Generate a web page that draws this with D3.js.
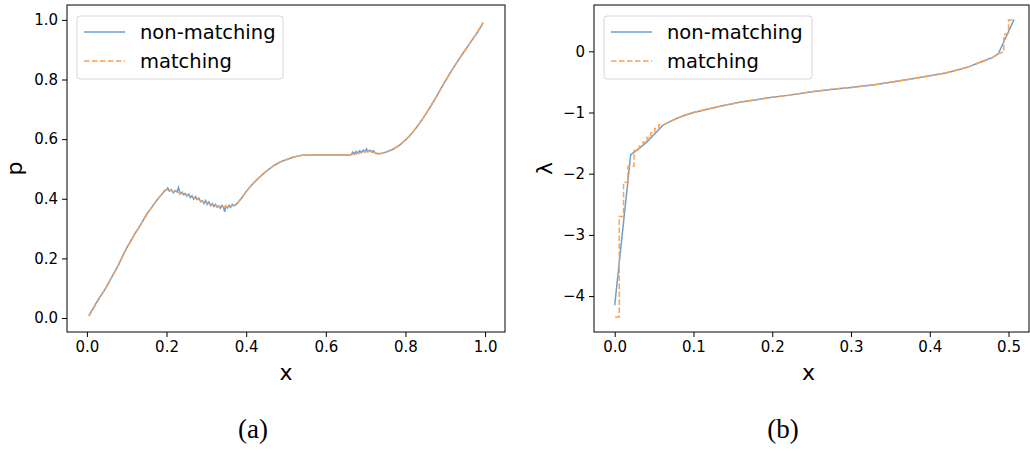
<!DOCTYPE html>
<html>
<head>
<meta charset="utf-8">
<script src="https://cdn.jsdelivr.net/npm/d3@7"></script>
<style>
  body { margin: 0; background: #fff; }
  svg { display: block; }
</style>
</head>
<body>
<svg id="chart" width="1030" height="451"></svg>
<script>
// panel (a): p against x
const leftTicks = [0, 0.2, 0.4, 0.6, 0.8, 1.0];
const leftNonMatching = [
  [0.005, 0.008], [0.01, 0.02], [0.02, 0.042], [0.03, 0.066], [0.04, 0.085], [0.05, 0.106],
  [0.06, 0.132], [0.07, 0.155], [0.08, 0.18], [0.09, 0.209], [0.10, 0.235], [0.11, 0.258],
  [0.12, 0.282], [0.13, 0.302], [0.14, 0.325], [0.15, 0.348], [0.16, 0.366], [0.17, 0.385],
  [0.18, 0.403], [0.19, 0.418], [0.195, 0.428],
  [0.200, 0.430], [0.203, 0.436], [0.207, 0.426], [0.212, 0.431], [0.217, 0.420], [0.221, 0.427],
  [0.226, 0.423], [0.230, 0.438], [0.234, 0.416], [0.239, 0.422], [0.243, 0.413], [0.247, 0.418],
  [0.251, 0.409], [0.256, 0.416], [0.260, 0.404], [0.264, 0.410], [0.268, 0.399], [0.273, 0.407],
  [0.277, 0.397], [0.281, 0.402], [0.286, 0.390], [0.290, 0.393], [0.294, 0.384], [0.298, 0.394],
  [0.302, 0.381], [0.306, 0.389], [0.311, 0.377], [0.315, 0.384], [0.319, 0.374], [0.323, 0.381],
  [0.327, 0.372], [0.331, 0.376], [0.335, 0.368], [0.339, 0.378], [0.343, 0.371], [0.346, 0.356],
  [0.349, 0.376], [0.353, 0.369], [0.357, 0.378], [0.361, 0.371], [0.365, 0.381], [0.370, 0.376],
  [0.375, 0.381],
  [0.38, 0.388], [0.39, 0.405], [0.40, 0.424], [0.41, 0.44], [0.42, 0.455], [0.43, 0.468],
  [0.44, 0.48], [0.45, 0.492], [0.46, 0.502], [0.47, 0.512], [0.48, 0.519], [0.49, 0.526],
  [0.50, 0.531], [0.51, 0.536], [0.52, 0.54], [0.53, 0.543], [0.54, 0.546], [0.56, 0.547],
  [0.60, 0.547], [0.64, 0.547], [0.655, 0.547],
  [0.660, 0.546], [0.664, 0.549], [0.668, 0.557], [0.672, 0.550], [0.676, 0.559], [0.681, 0.553],
  [0.685, 0.561], [0.689, 0.555], [0.694, 0.563], [0.698, 0.557], [0.702, 0.567], [0.706, 0.558],
  [0.711, 0.563], [0.715, 0.557], [0.719, 0.562], [0.724, 0.554], [0.730, 0.551],
  [0.74, 0.553], [0.75, 0.556], [0.76, 0.561], [0.77, 0.567], [0.78, 0.575], [0.79, 0.585],
  [0.80, 0.597], [0.81, 0.61], [0.82, 0.626], [0.83, 0.643], [0.84, 0.662], [0.85, 0.682],
  [0.86, 0.703], [0.87, 0.725], [0.88, 0.748], [0.89, 0.772], [0.90, 0.795], [0.91, 0.817],
  [0.92, 0.838], [0.93, 0.859], [0.94, 0.879], [0.95, 0.899], [0.96, 0.918], [0.97, 0.938],
  [0.98, 0.957], [0.99, 0.978], [0.995, 0.99]
];
const leftMatching = [
  [0.005, 0.006], [0.02, 0.04], [0.04, 0.084], [0.06, 0.13], [0.08, 0.18], [0.10, 0.234],
  [0.12, 0.28], [0.14, 0.324], [0.16, 0.366], [0.18, 0.402], [0.19, 0.418], [0.20, 0.431],
  [0.21, 0.428], [0.22, 0.424], [0.23, 0.421], [0.24, 0.417], [0.25, 0.413], [0.26, 0.408],
  [0.27, 0.402], [0.28, 0.397], [0.29, 0.391], [0.30, 0.386], [0.31, 0.382], [0.32, 0.378],
  [0.33, 0.375], [0.34, 0.373], [0.35, 0.373], [0.36, 0.374], [0.37, 0.378], [0.38, 0.388],
  [0.39, 0.405], [0.40, 0.424], [0.41, 0.44], [0.42, 0.455], [0.43, 0.468], [0.44, 0.48],
  [0.45, 0.492], [0.46, 0.502], [0.47, 0.512], [0.48, 0.519], [0.49, 0.526], [0.50, 0.531],
  [0.52, 0.54], [0.54, 0.546], [0.56, 0.547], [0.60, 0.547], [0.66, 0.547], [0.67, 0.549],
  [0.68, 0.552], [0.69, 0.555], [0.70, 0.558], [0.71, 0.558], [0.72, 0.555], [0.73, 0.551],
  [0.74, 0.552], [0.76, 0.561], [0.78, 0.575], [0.80, 0.597], [0.82, 0.626], [0.84, 0.662],
  [0.86, 0.703], [0.88, 0.748], [0.90, 0.795], [0.92, 0.838], [0.94, 0.879], [0.96, 0.918],
  [0.98, 0.957], [0.995, 0.992]
];

// panel (b): lambda against x
const rightXTicks = [0, 0.1, 0.2, 0.3, 0.4, 0.5];
const rightYTicks = [-4, -3, -2, -1, 0];
const rightNonMatching = [
  [0.0, -4.15], [0.0203, -1.69], [0.03, -1.6], [0.041, -1.48], [0.05, -1.36], [0.061, -1.21],
  [0.07, -1.15], [0.08, -1.09], [0.09, -1.04], [0.10, -1.0], [0.12, -0.94], [0.14, -0.88],
  [0.16, -0.83], [0.18, -0.79], [0.20, -0.75], [0.22, -0.72], [0.25, -0.66], [0.28, -0.615],
  [0.30, -0.59], [0.33, -0.545], [0.35, -0.505], [0.38, -0.445], [0.40, -0.40], [0.42, -0.355],
  [0.43, -0.32], [0.44, -0.29], [0.45, -0.25], [0.46, -0.20], [0.47, -0.15], [0.48, -0.10],
  [0.487, -0.04], [0.507, 0.52]
];
// the matching curve climbs in small stairs at both ends
const rightMatching = [
  [0.0005, -4.34], [0.0058, -4.34], [0.0058, -2.70], [0.0112, -2.70], [0.0112, -2.14],
  [0.0168, -2.14], [0.0168, -1.88], [0.0245, -1.88], [0.0245, -1.62], [0.031, -1.62],
  [0.031, -1.55], [0.036, -1.55], [0.036, -1.48], [0.041, -1.48], [0.041, -1.41],
  [0.046, -1.41], [0.046, -1.33], [0.051, -1.33], [0.051, -1.26], [0.056, -1.26],
  [0.056, -1.2], [0.062, -1.2],
  [0.07, -1.15], [0.08, -1.09], [0.09, -1.04], [0.10, -1.0], [0.12, -0.94], [0.14, -0.88],
  [0.16, -0.83], [0.18, -0.79], [0.20, -0.75], [0.22, -0.72], [0.25, -0.66], [0.28, -0.615],
  [0.30, -0.59], [0.33, -0.545], [0.35, -0.505], [0.38, -0.445], [0.40, -0.40], [0.42, -0.355],
  [0.43, -0.32], [0.44, -0.29], [0.45, -0.25], [0.46, -0.20], [0.47, -0.15], [0.48, -0.10],
  [0.487, -0.04], [0.494, -0.01], [0.494, 0.27], [0.500, 0.30], [0.500, 0.51], [0.505, 0.51]
];

const seriesNames = ["non-matching", "matching"];
const blue = "#6a9fd4";
const orange = "#ffa04c";

const svg = d3.select("#chart");
const fmtMinus = f => v => f(v).replace("-", "\u2212");

function drawPanel(opt) {
  const x = d3.scaleLinear().domain(opt.xDomain).range([opt.left, opt.right]);
  const y = d3.scaleLinear().domain(opt.yDomain).range([opt.bottom, opt.top]);
  const g = svg.append("g");

  // frame
  g.append("rect")
    .attr("x", opt.left).attr("y", opt.top)
    .attr("width", opt.right - opt.left).attr("height", opt.bottom - opt.top)
    .attr("fill", "none").attr("stroke", "#000").attr("stroke-width", 1);

  const xAxis = g.append("g")
    .attr("transform", `translate(0,${opt.bottom})`)
    .call(d3.axisBottom(x).tickValues(opt.xTicks).tickFormat(d3.format(".1f")).tickSize(5).tickPadding(4));
  const yAxis = g.append("g")
    .attr("transform", `translate(${opt.left},0)`)
    .call(d3.axisLeft(y).tickValues(opt.yTicks).tickFormat(fmtMinus(opt.yFormat)).tickSize(5).tickPadding(4));
  [xAxis, yAxis].forEach(a => {
    a.select(".domain").remove();
    a.selectAll("text").attr("font-family", "DejaVu Sans").attr("font-size", 15).attr("fill", "#000");
    a.selectAll("line").attr("stroke", "#000");
  });

  const clip = "clip" + opt.id;
  g.append("clipPath").attr("id", clip).append("rect")
    .attr("x", opt.left).attr("y", opt.top)
    .attr("width", opt.right - opt.left).attr("height", opt.bottom - opt.top);

  const line = d3.line().x(d => x(d[0])).y(d => y(d[1]));
  g.append("path").datum(opt.nonMatching)
    .attr("clip-path", `url(#${clip})`)
    .attr("fill", "none").attr("stroke", blue).attr("stroke-width", 1.5)
    .attr("d", line);
  g.append("path").datum(opt.matching)
    .attr("clip-path", `url(#${clip})`)
    .attr("fill", "none").attr("stroke", orange).attr("stroke-width", 1.5)
    .attr("stroke-dasharray", "5.5,2.5")
    .attr("d", line);

  // axis labels
  g.append("text")
    .attr("x", (opt.left + opt.right) / 2 + opt.xLabelShift).attr("y", 380)
    .attr("text-anchor", "middle").attr("font-family", "DejaVu Sans").attr("font-size", 22)
    .text("x");
  g.append("text")
    .attr("transform", `translate(${opt.yLabelX},${(opt.top + opt.bottom) / 2}) rotate(-90)`)
    .attr("text-anchor", "middle").attr("font-family", "DejaVu Sans").attr("font-size", 22)
    .text(opt.yLabel);

  // legend
  const lg = g.append("g").attr("transform", `translate(${opt.left + 10},16)`);
  lg.append("rect").attr("width", opt.legendW).attr("height", 63).attr("rx", 3)
    .attr("fill", "#fff").attr("fill-opacity", 0.8).attr("stroke", "#d6d6d6");
  seriesNames.forEach((name, i) => {
    const ly = 16 + i * 29;
    lg.append("line").attr("x1", 7).attr("x2", 48).attr("y1", ly).attr("y2", ly)
      .attr("stroke", i ? orange : blue).attr("stroke-width", 1.5)
      .attr("stroke-dasharray", i ? "5.5,2.5" : null);
    lg.append("text").attr("x", 63).attr("y", ly + 7)
      .attr("font-family", "DejaVu Sans").attr("font-size", 19.5).text(name);
  });

  svg.append("text")
    .attr("x", opt.captionX).attr("y", 438)
    .attr("text-anchor", "middle").attr("font-family", "Liberation Serif").attr("font-size", 27)
    .text(opt.caption);
}

drawPanel({
  id: "a", left: 67, right: 505, top: 5, bottom: 332,
  xDomain: [-0.05, 1.05], yDomain: [-0.047, 1.05],
  xTicks: leftTicks, yTicks: leftTicks, yFormat: d3.format(".1f"),
  nonMatching: leftNonMatching, matching: leftMatching,
  yLabel: "p", yLabelX: 22, xLabelShift: 0, legendW: 206,
  caption: "(a)", captionX: 253
});

drawPanel({
  id: "b", left: 594, right: 1029, top: 5, bottom: 332,
  xDomain: [-0.0263, 0.526], yDomain: [-4.587, 0.757],
  xTicks: rightXTicks, yTicks: rightYTicks, yFormat: d3.format("d"),
  nonMatching: rightNonMatching, matching: rightMatching,
  yLabel: "\u03bb", yLabelX: 552, xLabelShift: -3, legendW: 208,
  caption: "(b)", captionX: 783
});
</script>
</body>
</html>
